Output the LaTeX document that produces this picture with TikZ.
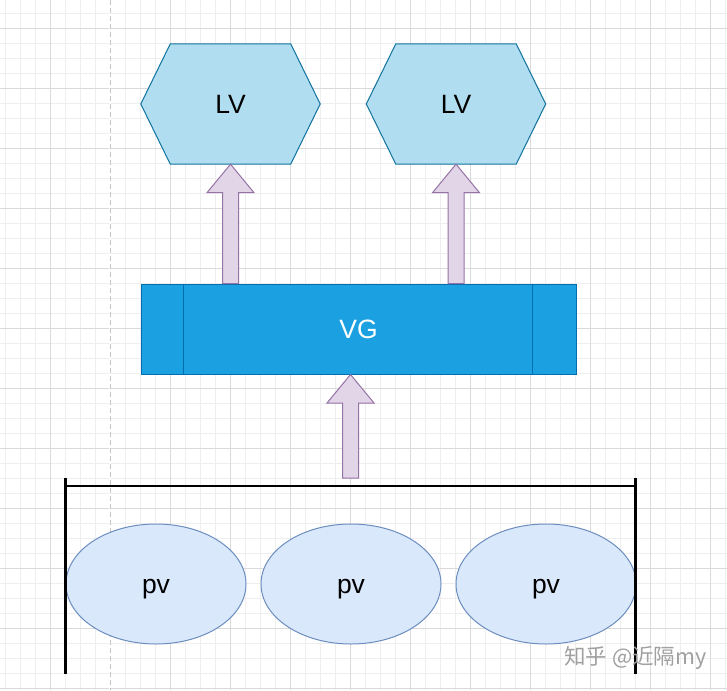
\documentclass[tikz,border=0pt]{standalone}
\usepackage{fontspec}
\setmainfont{Liberation Sans}
\newfontfamily\cjkfont{Noto Sans CJK SC}
\usetikzlibrary{calc,shapes.geometric}
\definecolor{hexfill}{HTML}{B1DDF0}
\definecolor{hexline}{HTML}{10739E}
\definecolor{vgfill}{HTML}{1BA1E2}
\definecolor{vgline}{HTML}{006EAF}
\definecolor{arrfill}{HTML}{E1D5E7}
\definecolor{arrline}{HTML}{9673A6}
\definecolor{pvfill}{HTML}{DAE8FC}
\definecolor{pvline}{HTML}{6C8EBF}
\definecolor{gridmajor}{HTML}{DADADA}
\definecolor{gridminor}{HTML}{EEEEEE}
\definecolor{pagedash}{HTML}{C4C4C4}
\definecolor{wmark}{HTML}{A0A0A0}
\pgfdeclarelayer{back}
\pgfsetlayers{back,main}
\tikzset{
  txt/.style={font=\fontsize{26.5}{30}\selectfont},
  lvbox/.style={txt, minimum width=179pt, minimum height=120pt, inner sep=0pt},
  hexstyle/.style={fill=hexfill, draw=hexline, line width=1pt, line join=miter},
  vgbox/.style={txt, text=white, fill=vgfill, draw=vgline, line width=1pt,
    minimum width=435pt, minimum height=90pt, inner sep=0pt},
  vgdiv/.style={draw=vgline, line width=1pt},
  barrow/.style={fill=arrfill, draw=arrline, line width=1pt, line join=miter},
  pvbox/.style={txt, ellipse, fill=pvfill, draw=pvline, line width=1pt,
    minimum width=180pt, minimum height=120pt, inner sep=0pt,
    text height=18pt, text depth=0pt},
  bracketline/.style={draw=black, line width=2.5pt},
  gridmaj/.style={draw=gridmajor, line width=0.9pt},
  gridmin/.style={draw=gridminor, line width=0.8pt},
  pageline/.style={draw=pagedash, line width=1pt, dash pattern=on 5pt off 3pt},
}
\newcommand\hexof[1]{%
  \begin{pgfonlayer}{back}
  \draw[hexstyle] (#1.west) -- ([xshift=29.5pt]#1.north west) -- ([xshift=-29.5pt]#1.north east)
    -- (#1.east) -- ([xshift=-29.5pt]#1.south east) -- ([xshift=29.5pt]#1.south west) -- cycle;
  \end{pgfonlayer}}
\newcommand\blockarrow[2]{%
  \draw[barrow] let \p1=(#1), \p2=(#2) in
    (\x2-8pt,\y1) -- (\x2-8pt,\y2-28.5pt) -- (\x2-23.5pt,\y2-28.5pt) -- (\x2,\y2)
    -- (\x2+23.5pt,\y2-28.5pt) -- (\x2+8pt,\y2-28.5pt) -- (\x2+8pt,\y1) -- cycle;}
\begin{document}
\begin{tikzpicture}[x=1pt,y=-1pt]
\useasboundingbox (0,0) rectangle (727,690);
\begin{pgfonlayer}{back}
\fill[white] (0,0) rectangle (727,690);
\foreach \gx in {5,20,...,725} {\draw[gridmin] (\gx,0) -- (\gx,690);}
\foreach \gy in {-2,13,...,690} {\draw[gridmin] (0,\gy) -- (727,\gy);}
\foreach \gx in {50,110,...,727} {\draw[gridmaj] (\gx,0) -- (\gx,690);}
\foreach \gy in {28,88,...,690} {\draw[gridmaj] (0,\gy) -- (727,\gy);}
\fill[white] (109,0) rectangle (111,690);
\draw[pageline] (110,0) -- (110,690);
\end{pgfonlayer}

% LV hexagons
\node[lvbox] (lv1) at (230.5,104) {LV};
\node[lvbox] (lv2) at (456,104) {LV};
\hexof{lv1}
\hexof{lv2}

% VG
\node[vgbox] (vg) at (358.5,329) {VG};
\draw[vgdiv] ([xshift=43pt]vg.north west) -- ([xshift=43pt]vg.south west);
\draw[vgdiv] ([xshift=-44pt]vg.north east) -- ([xshift=-44pt]vg.south east);

% PVs
\node[pvbox] (pv1) at (156,584) {pv};
\node[pvbox] (pv2) at (351,584) {pv};
\node[pvbox] (pv3) at (546,584) {pv};

% bracket
\coordinate (bl) at (65.5,478);
\coordinate (br) at (635.5,478);
\coordinate (blb) at (65.5,674);
\coordinate (brb) at (635.5,674);
\coordinate (hl) at (65.5,486);
\coordinate (hr) at (635.5,486);
\draw[bracketline] (hl) -- (hr);
\draw[bracketline] (bl) -- (blb);
\draw[bracketline] (br) -- (brb);

% arrows
\coordinate (b3) at (350.5,478);
\blockarrow{lv1.south |- vg.north}{lv1.south}
\blockarrow{lv2.south |- vg.north}{lv2.south}
\blockarrow{b3}{b3 |- vg.south}

% watermark
\node[text=wmark, font=\cjkfont\fontsize{21.5}{24}\selectfont, inner sep=0pt, anchor=west] (wm) at (564,658) {知乎 @近隔my};
\end{tikzpicture}
\end{document}
